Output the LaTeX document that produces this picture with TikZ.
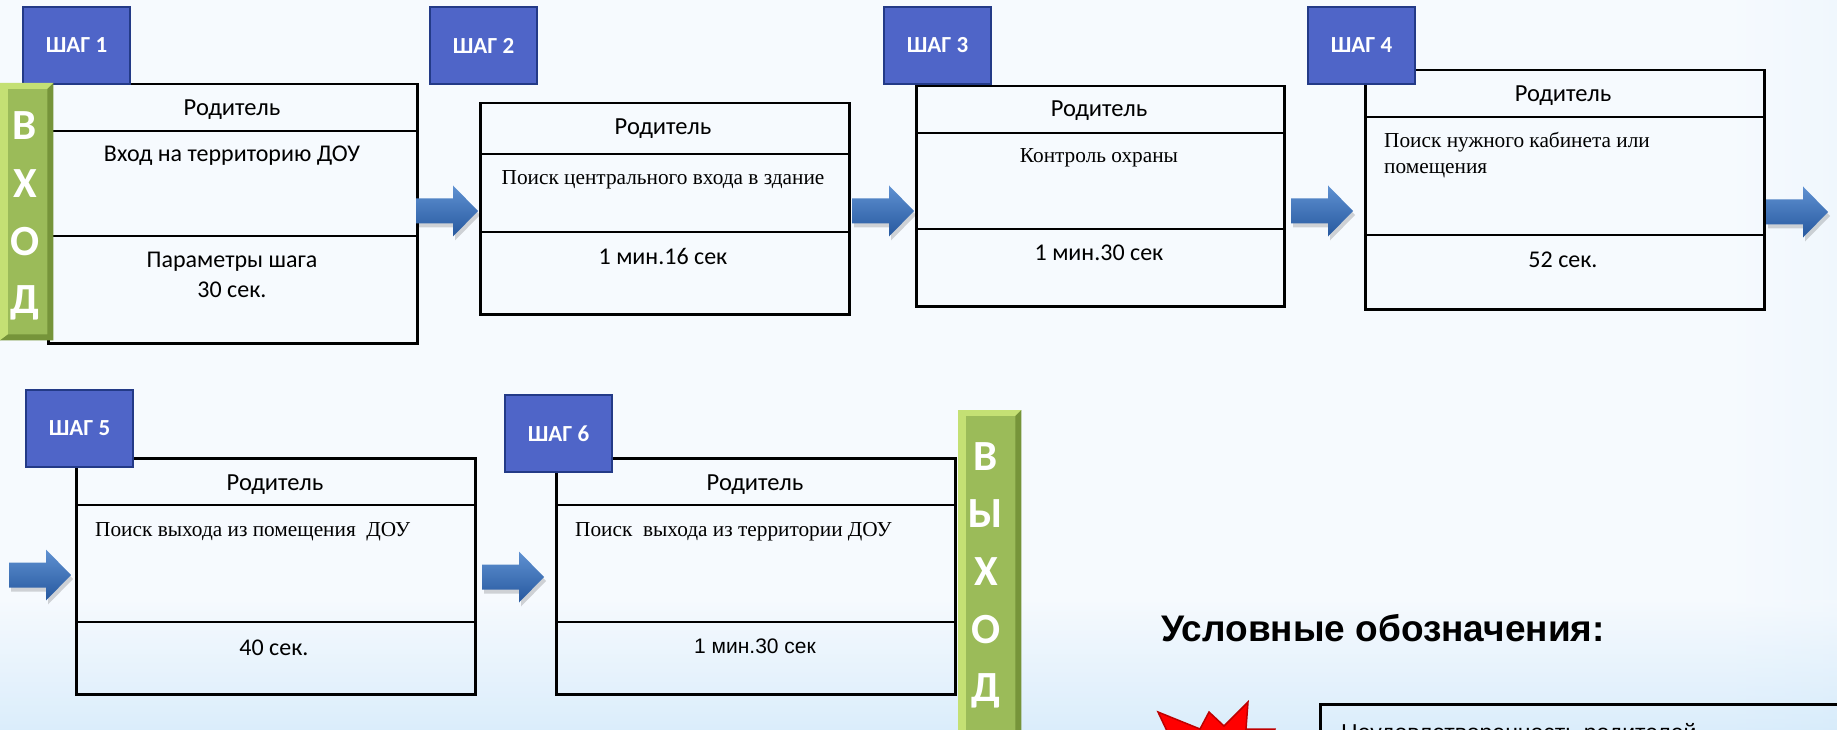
\documentclass[tikz,border=0pt]{standalone}
\usepackage{fontspec}
\setmainfont{Carlito}
\newfontfamily\calfont{Carlito}
\newfontfamily\serfont{Liberation Serif}
\newfontfamily\arifont{Liberation Sans}
\usetikzlibrary{calc}
\definecolor{bgL}{RGB}{186,222,248}
\definecolor{bgM}{RGB}{246,250,254}
\definecolor{bgR}{RGB}{190,223,247}
\definecolor{stepfill}{RGB}{79,101,200}
\definecolor{stepdraw}{RGB}{35,58,135}
\definecolor{greenA}{RGB}{155,187,89}
\definecolor{greenL}{RGB}{196,224,116}
\definecolor{greenD}{RGB}{118,148,58}
\definecolor{arrTop}{RGB}{95,145,210}
\definecolor{arrBot}{RGB}{38,88,158}
\definecolor{starred}{RGB}{255,0,0}
\definecolor{stardark}{RGB}{190,0,0}
\pgfdeclarehorizontalshading{bgshade}{100bp}{color(0bp)=(bgL); color(24bp)=(bgM); color(72bp)=(bgM); color(100bp)=(bgR)}
\tikzset{
  boxframe/.style={draw=black, line width=2.5pt, inner sep=0pt, anchor=north west},
  divider/.style={draw=black, line width=2.5pt},
  steptag/.style={draw=stepdraw, line width=2pt, fill=stepfill, inner sep=0pt,
    anchor=north west, minimum width=107pt, minimum height=77pt, text=white,
    font=\calfont\bfseries\fontsize{23}{27}\selectfont},
  gatebar/.style={inner sep=0pt, anchor=north west, fill=greenA},
  gateletter/.style={font=\calfont\bfseries\fontsize{43}{43}\selectfont, text=white, anchor=base, inner sep=0pt},
  roletext/.style={font=\calfont\fontsize{24.5}{28}\selectfont, anchor=base, inner sep=0pt},
  serifnote/.style={font=\serfont\fontsize{21.3}{25}\selectfont, inner sep=0pt},
  timetext/.style={font=\calfont\fontsize{24}{28}\selectfont, anchor=base, inner sep=0pt},
  blockarrow/.pic={
    \fill[black, opacity=0.16, shift={(2,4)}] (0,-12.5) -- (37,-12.5) -- (37,-25.5) -- (62,0) -- (37,25.5) -- (37,12.5) -- (0,12.5) -- cycle;
    \shade[top color=arrTop, bottom color=arrBot] (0,-12.5) -- (37,-12.5) -- (37,-25.5) -- (62,0) -- (37,25.5) -- (37,12.5) -- (0,12.5) -- cycle;
  }
}
\newcommand{\gatebevel}[1]{%
  \fill[greenL] (#1.north west) -- (#1.north east) -- ($(#1.north east)+(-6,6)$) -- ($(#1.north west)+(8,6)$) -- ($(#1.south west)+(8,-6)$) -- (#1.south west) -- cycle;
  \fill[greenD] (#1.south east) -- (#1.north east) -- ($(#1.north east)+(-6,6)$) -- ($(#1.south east)+(-6,-6)$) -- ($(#1.south west)+(8,-6)$) -- (#1.south west) -- cycle;
  \fill[greenA] ($(#1.north west)+(8,6)$) rectangle ($(#1.south east)+(-6,-6)$);
}
\begin{document}
\begin{tikzpicture}[x=1pt,y=-1pt]
\useasboundingbox (0,0) rectangle (1837,730);
\clip (0,0) rectangle (1837,730);
\shade[shading=bgshade] (0,0) rectangle (1837,730);
\shade[top color=bgM, bottom color=bgL, opacity=0.45] (0,600) rectangle (1837,730);

% boxes
\node[boxframe, minimum width=369pt, minimum height=259pt] (b1) at (47,83) {};
\node[boxframe, minimum width=369pt, minimum height=211pt] (b2) at (479,102) {};
\node[boxframe, minimum width=368pt, minimum height=220pt] (b3) at (915,85) {};
\node[boxframe, minimum width=399pt, minimum height=239pt] (b4) at (1364,69) {};
\node[boxframe, minimum width=399pt, minimum height=236pt] (b5) at (75,457) {};
\node[boxframe, minimum width=399pt, minimum height=236pt] (b6) at (555,457) {};

\draw[divider] (b1.west |- 0,131) -- (b1.east |- 0,131);
\draw[divider] (b1.west |- 0,236) -- (b1.east |- 0,236);
\draw[divider] (b2.west |- 0,154) -- (b2.east |- 0,154);
\draw[divider] (b2.west |- 0,232) -- (b2.east |- 0,232);
\draw[divider] (b3.west |- 0,133) -- (b3.east |- 0,133);
\draw[divider] (b3.west |- 0,229) -- (b3.east |- 0,229);
\draw[divider] (b4.west |- 0,117) -- (b4.east |- 0,117);
\draw[divider] (b4.west |- 0,235) -- (b4.east |- 0,235);
\draw[divider] (b5.west |- 0,505) -- (b5.east |- 0,505);
\draw[divider] (b5.west |- 0,622) -- (b5.east |- 0,622);
\draw[divider] (b6.west |- 0,505) -- (b6.east |- 0,505);
\draw[divider] (b6.west |- 0,622) -- (b6.east |- 0,622);

% arrows
\pic at (416,211) {blockarrow};
\pic at (852,211) {blockarrow};
\pic at (1291,211) {blockarrow};
\pic at (1766,212) {blockarrow};
\pic at (9,575) {blockarrow};
\pic at (482,577) {blockarrow};

% step tags
\node[steptag] (s1) at (22,6) {ШАГ 1};
\node[steptag] (s2) at (429,6) {ШАГ 2};
\node[steptag] (s3) at (883,6) {ШАГ 3};
\node[steptag] (s4) at (1307,6) {ШАГ 4};
\node[steptag] (s5) at (25,389) {ШАГ 5};
\node[steptag] (s6) at (504,394) {ШАГ 6};

% entry / exit bars
\node[gatebar, minimum width=53pt, minimum height=257pt] (entry) at (0,83) {};
\gatebevel{entry}
\node[gateletter] (e1) at (25,140) {В};
\node[gateletter] (e2) at (25,198) {Х};
\node[gateletter] (e3) at (25,256) {О};
\node[gateletter] (e4) at (25,313) {Д};

\node[gatebar, minimum width=63pt, minimum height=330pt] (exit) at (958,410) {};
\gatebevel{exit}
\node[gateletter] (x1) at (986,470) {В};
\node[gateletter] (x2) at (986,527) {Ы};
\node[gateletter] (x3) at (986,585) {Х};
\node[gateletter] (x4) at (986,643) {О};
\node[gateletter] (x5) at (986,701) {Д};

% texts box 1
\node[roletext] (r1) at (232,116) {Родитель};
\node[roletext, font=\calfont\fontsize{24}{28}\selectfont] (t1) at (232,162) {Вход на территорию ДОУ};
\node[timetext] (p1a) at (232,268) {Параметры шага};
\node[timetext] (p1b) at (232,298) {30 сек.};
% box 2
\node[roletext] (r2) at (663,135) {Родитель};
\node[serifnote, anchor=base] (t2) at (663,185) {Поиск центрального входа в здание};
\node[timetext] (m2) at (663,265) {1 мин.16 сек};
% box 3
\node[roletext] (r3) at (1099,117) {Родитель};
\node[serifnote, anchor=base] (t3) at (1099,163) {Контроль охраны};
\node[timetext] (m3) at (1099,261) {1 мин.30 сек};
% box 4
\node[roletext] (r4) at (1563,102) {Родитель};
\node[serifnote, anchor=base west] (t4a) at (1384,148) {Поиск нужного кабинета или};
\node[serifnote, anchor=base west] (t4b) at (1384,174) {помещения};
\node[timetext] (m4) at (1563,267) {52 сек.};
% box 5
\node[roletext] (r5) at (275,490) {Родитель};
\node[serifnote, anchor=base west] (t5) at (95,536) {Поиск выхода из помещения\ \ ДОУ};
\node[timetext] (m5) at (274,655) {40 сек.};
% box 6
\node[roletext] (r6) at (755,490) {Родитель};
\node[serifnote, anchor=base west] (t6) at (575,536) {Поиск\ \ выхода из территории ДОУ};
\node[timetext, font=\arifont\fontsize{21}{25}\selectfont] (m6) at (755,653) {1 мин.30 сек};

% legend
\node[anchor=base west, inner sep=0pt, font=\arifont\bfseries\fontsize{37}{42}\selectfont] (leg) at (1161,641) {Условные обозначения:};
\fill[starred, draw=stardark, line width=1.5pt] (1175,748) -- (1158,712) -- (1200,729) -- (1209,712) -- (1224,726) -- (1248,702) -- (1246,729) -- (1275,729) -- (1268,748) -- cycle;
\node[boxframe, minimum width=600pt, minimum height=100pt] (lbox) at (1319,703) {};
\node[anchor=base west, inner sep=0pt, font=\arifont\fontsize{23}{27}\selectfont] (ltext) at (1341,740) {Неудовлетворенность родителей};
\end{tikzpicture}
\end{document}
